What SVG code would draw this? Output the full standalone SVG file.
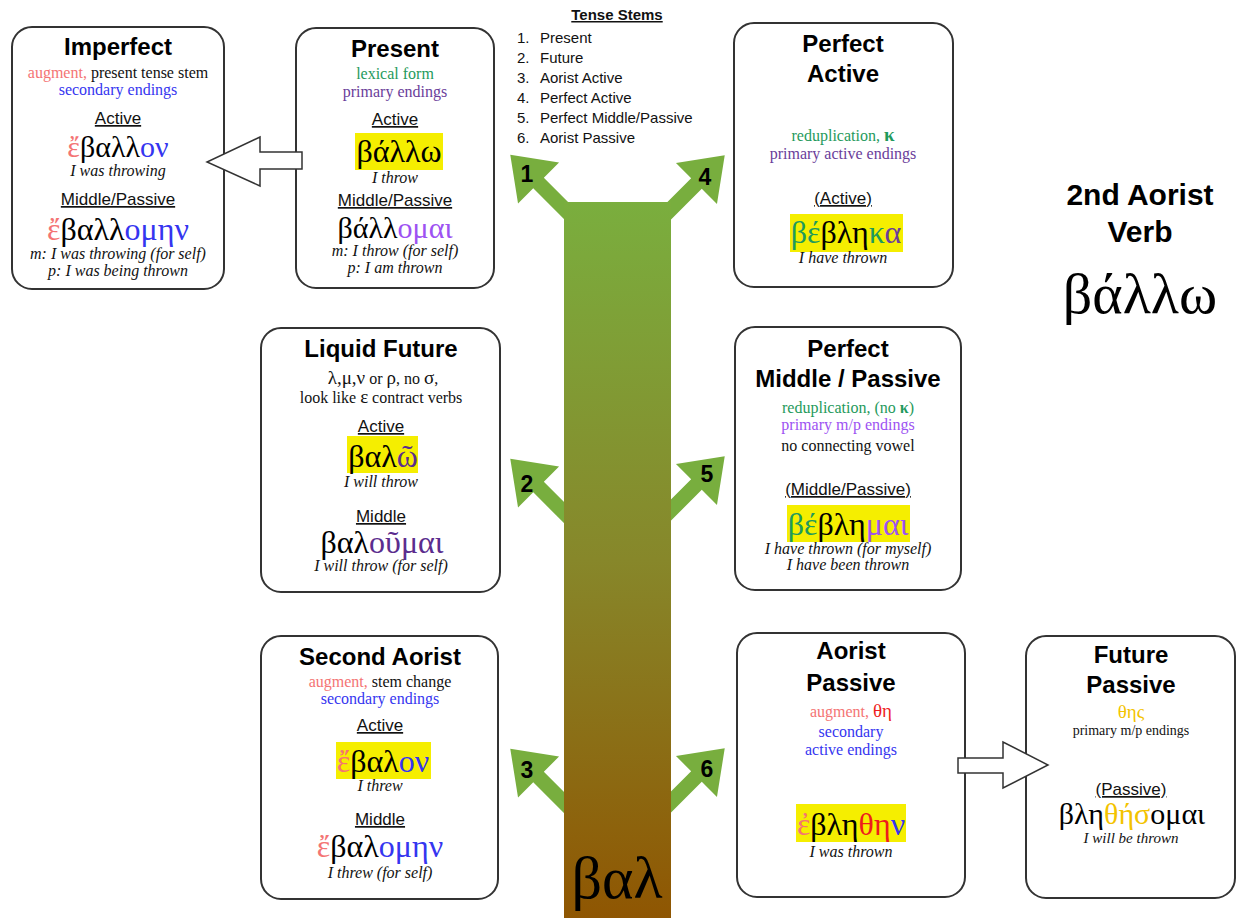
<svg xmlns="http://www.w3.org/2000/svg" width="1238" height="918" viewBox="0 0 1238 918">
<defs>
<linearGradient id="trunkGrad" x1="0" y1="0" x2="0" y2="1">
<stop offset="0" stop-color="#7aae3e"/>
<stop offset="0.5" stop-color="#87872a"/>
<stop offset="1" stop-color="#8f5602"/>
</linearGradient>
<path id="branch" d="M-12,-7.5 L36,-7.5 L36,-29 L76,0 L36,29 L36,7.5 L-12,7.5 Z"/>
</defs>
<style>
.box{fill:#fff;stroke:#333;stroke-width:2}
.title{font-family:"Liberation Sans",Arial,sans-serif;font-weight:bold;font-size:24px;text-anchor:middle;fill:#000}
.big{font-size:30px}
.lbl{font-family:"Liberation Sans",Arial,sans-serif;font-size:17px;text-anchor:middle;text-decoration:underline;fill:#111}
.note{font-family:"Liberation Serif","Times New Roman",serif;font-size:16px;text-anchor:middle;fill:#111}
.tr{font-family:"Liberation Serif","Times New Roman",serif;font-style:italic;font-size:16px;text-anchor:middle;fill:#111}
.gk{font-family:"Liberation Serif","DejaVu Serif",serif;font-size:32px;text-anchor:middle;fill:#000}
.gs{font-family:"Liberation Serif","DejaVu Serif",serif;font-size:19px}
.hl{fill:#f5ee00}
.hollow{fill:#fff;stroke:#333;stroke-width:1.5}
.branch{fill:#78ae3e}
.num{font-family:"Liberation Sans",Arial,sans-serif;font-weight:bold;font-size:23px;text-anchor:middle;fill:#000}
.stem{font-family:"Liberation Sans",Arial,sans-serif;font-size:15px;fill:#111}
.sal{fill:#f47474}
.blu{fill:#3535f0}
.grn{fill:#1f9a5c}
.pur{fill:#6a3d9a}
.vio{fill:#9d52f2}
.dpur{fill:#5b2d8e}
.red{fill:#ee1d1d}
.gold{fill:#f3c300}
.blk{fill:#000}
</style>

<g id="tense-stems">
<text class="stem" x="617" y="20" style="font-weight:bold;text-anchor:middle;text-decoration:underline">Tense Stems</text>
<text class="stem" x="517" y="43">1.</text><text class="stem" x="540" y="43">Present</text>
<text class="stem" x="517" y="63">2.</text><text class="stem" x="540" y="63">Future</text>
<text class="stem" x="517" y="83">3.</text><text class="stem" x="540" y="83">Aorist Active</text>
<text class="stem" x="517" y="103">4.</text><text class="stem" x="540" y="103">Perfect Active</text>
<text class="stem" x="517" y="123">5.</text><text class="stem" x="540" y="123">Perfect Middle/Passive</text>
<text class="stem" x="517" y="143">6.</text><text class="stem" x="540" y="143">Aorist Passive</text>
</g>

<g id="verb-title">
<text class="title big" x="1140" y="205">2nd Aorist</text>
<text class="title big" x="1140" y="242">Verb</text>
<text class="gk" x="1140" y="313" style="font-size:58px">βάλλω</text>
</g>

<g id="imperfect">
<rect class="box" x="12" y="27" width="212" height="262" rx="20"/>
<text class="title" x="118" y="55">Imperfect</text>
<text class="note" x="118" y="78"><tspan class="sal">augment,</tspan> present tense stem</text>
<text class="note blu" x="118" y="95">secondary endings</text>
<text class="lbl" x="118" y="124">Active</text>
<text class="gk" x="118" y="157" style="font-size:30px"><tspan class="sal">ἔ</tspan>βαλλ<tspan class="blu">ον</tspan></text>
<text class="tr" x="118" y="176">I was throwing</text>
<text class="lbl" x="118" y="205">Middle/Passive</text>
<text class="gk" x="118" y="240"><tspan class="sal">ἔ</tspan>βαλλ<tspan class="blu">ομην</tspan></text>
<text class="tr" x="118" y="259">m: I was throwing (for self)</text>
<text class="tr" x="118" y="276">p: I was being thrown</text>
</g>

<g id="present">
<rect class="box" x="296" y="28" width="198" height="260" rx="20"/>
<text class="title" x="395" y="57">Present</text>
<text class="note grn" x="395" y="79">lexical form</text>
<text class="note pur" x="395" y="97">primary endings</text>
<text class="lbl" x="395" y="125">Active</text>
<rect class="hl" x="355" y="133" width="88" height="37"/>
<text class="gk" x="399" y="162">βάλλω</text>
<text class="tr" x="395" y="183">I throw</text>
<text class="lbl" x="395" y="206">Middle/Passive</text>
<text class="gk" x="395" y="238" style="font-size:30px">βάλλ<tspan class="vio">ομαι</tspan></text>
<text class="tr" x="395" y="256">m: I throw (for self)</text>
<text class="tr" x="395" y="273">p: I am thrown</text>
</g>

<g id="perfect-active">
<rect class="box" x="734" y="23" width="219" height="264" rx="20"/>
<text class="title" x="843" y="52">Perfect</text>
<text class="title" x="843" y="82">Active</text>
<text class="note grn" x="843" y="141">reduplication, <tspan class="gs" style="font-weight:bold">κ</tspan></text>
<text class="note pur" x="843" y="159">primary active endings</text>
<text class="lbl" x="843" y="204">(Active)</text>
<rect class="hl" x="790" y="214" width="113" height="38"/>
<text class="gk" x="846" y="243"><tspan class="grn">βέ</tspan>βλη<tspan class="grn">κ</tspan><tspan class="pur">α</tspan></text>
<text class="tr" x="843" y="263">I have thrown</text>
</g>

<g id="liquid-future">
<rect class="box" x="261" y="328" width="239" height="264" rx="20"/>
<text class="title" x="381" y="357">Liquid Future</text>
<text class="note" x="383" y="384"><tspan class="gs">λ,μ,ν</tspan> or <tspan class="gs">ρ</tspan>, no <tspan class="gs">σ</tspan>,</text>
<text class="note" x="381" y="403">look like <tspan class="gs">ε</tspan> contract verbs</text>
<text class="lbl" x="381" y="432">Active</text>
<rect class="hl" x="347" y="436" width="71" height="37"/>
<text class="gk" x="383" y="467">βαλ<tspan class="dpur">ῶ</tspan></text>
<text class="tr" x="381" y="487">I will throw</text>
<text class="lbl" x="381" y="522">Middle</text>
<text class="gk" x="382" y="553">βαλ<tspan class="dpur">οῦμαι</tspan></text>
<text class="tr" x="381" y="571">I will throw (for self)</text>
</g>

<g id="perfect-middle-passive">
<rect class="box" x="735" y="327" width="226" height="263" rx="20"/>
<text class="title" x="848" y="357">Perfect</text>
<text class="title" x="848" y="387">Middle / Passive</text>
<text class="note grn" x="848" y="413">reduplication, (no <tspan style="font-weight:bold">κ</tspan>)</text>
<text class="note vio" x="848" y="430">primary m/p endings</text>
<text class="note" x="848" y="451">no connecting vowel</text>
<text class="lbl" x="848" y="495">(Middle/Passive)</text>
<rect class="hl" x="787" y="505" width="123" height="37"/>
<text class="gk" x="848" y="535"><tspan class="grn">βέ</tspan>βλη<tspan class="vio">μαι</tspan></text>
<text class="tr" x="848" y="554">I have thrown (for myself)</text>
<text class="tr" x="848" y="570">I have been thrown</text>
</g>

<g id="second-aorist">
<rect class="box" x="261" y="636" width="237" height="263" rx="20"/>
<text class="title" x="380" y="665">Second Aorist</text>
<text class="note" x="380" y="687"><tspan class="sal">augment,</tspan> stem change</text>
<text class="note blu" x="380" y="704">secondary endings</text>
<text class="lbl" x="380" y="731">Active</text>
<rect class="hl" x="336" y="742" width="95" height="37"/>
<text class="gk" x="383" y="772"><tspan class="sal">ἔ</tspan>βαλ<tspan class="blu">ον</tspan></text>
<text class="tr" x="380" y="791">I threw</text>
<text class="lbl" x="380" y="825">Middle</text>
<text class="gk" x="380" y="857"><tspan class="sal">ἔ</tspan>βαλ<tspan class="blu">ομην</tspan></text>
<text class="tr" x="380" y="878">I threw (for self)</text>
</g>

<g id="aorist-passive">
<rect class="box" x="737" y="633" width="228" height="264" rx="20"/>
<text class="title" x="851" y="659">Aorist</text>
<text class="title" x="851" y="691">Passive</text>
<text class="note" x="851" y="717"><tspan class="sal">augment,</tspan> <tspan class="gs red">θη</tspan></text>
<text class="note blu" x="851" y="737">secondary</text>
<text class="note blu" x="851" y="755">active endings</text>
<rect class="hl" x="796" y="804" width="110" height="38"/>
<text class="gk" x="851" y="835"><tspan class="sal">ἐ</tspan>βλη<tspan class="red">θη</tspan><tspan class="blu">ν</tspan></text>
<text class="tr" x="851" y="857">I was thrown</text>
</g>

<g id="future-passive">
<rect class="box" x="1026" y="636" width="209" height="262" rx="20"/>
<text class="title" x="1131" y="663">Future</text>
<text class="title" x="1131" y="693">Passive</text>
<text class="note gold" x="1131" y="718"><tspan class="gs">θης</tspan></text>
<text class="note" x="1131" y="735" style="font-size:14px">primary m/p endings</text>
<text class="lbl" x="1131" y="795">(Passive)</text>
<text class="gk" x="1132" y="824" style="font-size:30px">βλη<tspan class="gold">θήσ</tspan>ομαι</text>
<text class="tr" x="1131" y="843" style="font-size:15px">I will be thrown</text>
</g>

<g id="connectors">
<use href="#branch" class="branch" transform="translate(564,208.5) rotate(-135)"/>
<use href="#branch" class="branch" transform="translate(564,512.5) rotate(-135)"/>
<use href="#branch" class="branch" transform="translate(564,802.5) rotate(-135)"/>
<use href="#branch" class="branch" transform="translate(671,209) rotate(-45)"/>
<use href="#branch" class="branch" transform="translate(671,510) rotate(-45)"/>
<use href="#branch" class="branch" transform="translate(671,802) rotate(-45)"/>
<rect x="564" y="202" width="107" height="716" fill="url(#trunkGrad)"/>
<text class="num" x="527" y="182">1</text>
<text class="num" x="527" y="492">2</text>
<text class="num" x="527" y="778">3</text>
<text class="num" x="705" y="185">4</text>
<text class="num" x="707" y="482">5</text>
<text class="num" x="707" y="777">6</text>
<text class="gk" x="617" y="898" style="font-size:60px">βαλ</text>
<polygon class="hollow" points="302,152 260,152 260,137 207,162 260,186 260,169 302,169"/>
<polygon class="hollow" points="958,758 1003,758 1003,742 1048,765 1003,788 1003,773 958,773"/>
</g>
</svg>
